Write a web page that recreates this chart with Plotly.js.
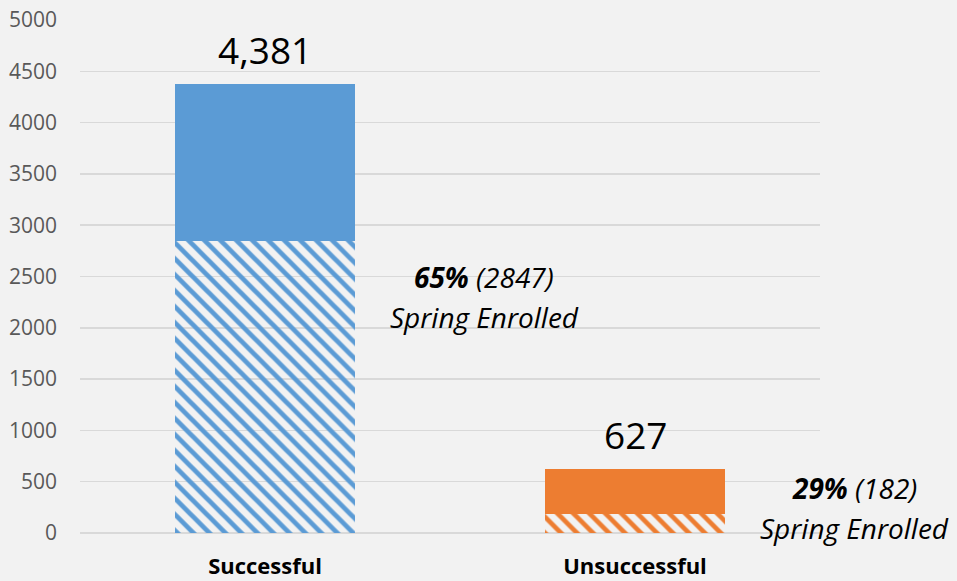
<!DOCTYPE html>
<html>
<head>
<meta charset="utf-8">
<script src="https://cdn.plot.ly/plotly-3.0.1.min.js"></script>
<style>
html,body{margin:0;padding:0;background:#f2f2f2;}
#chart{width:957px;height:581px;}
</style>
</head>
<body>
<div id="chart"></div>
<script>
const categories = ["Successful", "Unsuccessful"];
const totals = [4381, 627];
const springEnrolled = [2847, 182];
const springPct = ["65%", "29%"];
const barColors = ["#5B9BD5", "#ED7D31"];
const yTicks = [0, 500, 1000, 1500, 2000, 2500, 3000, 3500, 4000, 4500, 5000];

const remainder = totals.map((t, i) => t - springEnrolled[i]);

const hatched = {
  type: "bar",
  x: categories,
  y: springEnrolled,
  width: 0.485,
  marker: {
    color: barColors,
    line: {width: 0},
    pattern: {shape: "\\", fgcolor: "#ffffff", bgcolor: barColors, fgopacity: 1,
              size: 11.3, solidity: 0.42, fillmode: "replace"}
  },
  hoverinfo: "skip",
  showlegend: false
};
const solid = {
  type: "bar",
  x: categories,
  y: remainder,
  width: 0.485,
  marker: {color: barColors, line: {width: 0}},
  hoverinfo: "skip",
  showlegend: false
};

const font = "Open Sans, Lato, sans-serif";
const annotations = [];
categories.forEach((c, i) => {
  annotations.push({
    x: c, y: totals[i], xref: "x", yref: "y",
    text: totals[i].toLocaleString("en-US"),
    showarrow: false, yanchor: "bottom", yshift: 7,
    font: {family: font, size: 37, color: "#000000"}
  });
});
const sidePos = [[0.546, 0.499, 0.422], [1.047, 0.087, 0.010]];
categories.forEach((c, i) => {
  annotations.push({
    x: sidePos[i][0], y: sidePos[i][1], xref: "paper", yref: "paper",
    text: "<b><i>" + springPct[i] + "</i></b> <i>(" + springEnrolled[i] + ")</i>",
    showarrow: false, xanchor: "center", yanchor: "middle",
    font: {family: font, size: 28, color: "#000000"}
  });
  annotations.push({
    x: sidePos[i][0], y: sidePos[i][2], xref: "paper", yref: "paper",
    text: "<i>Spring Enrolled</i>",
    showarrow: false, xanchor: "center", yanchor: "middle",
    font: {family: font, size: 28, color: "#000000"}
  });
});

const layout = {
  width: 957, height: 581,
  margin: {l: 80, r: 137, t: 20, b: 48, pad: 0},
  paper_bgcolor: "#f2f2f2",
  plot_bgcolor: "#f2f2f2",
  barmode: "stack",
  showlegend: false,
  xaxis: {
    type: "category",
    range: [-0.5, 1.5],
    showgrid: false, zeroline: false, showline: false,
    ticks: "",
    ticklabelstandoff: 18,
    tickfont: {family: font, size: 22, color: "#000000", weight: "bold"},
    fixedrange: true
  },
  yaxis: {
    range: [0, 5000],
    tickvals: yTicks,
    ticktext: yTicks.map(String),
    showgrid: true, gridcolor: "#d9d9d9", gridwidth: 1.5,
    zeroline: true, zerolinecolor: "#d9d9d9", zerolinewidth: 1.5,
    showline: false, ticks: "",
    ticklabelstandoff: 22,
    tickfont: {family: font, size: 21, color: "#595959"},
    fixedrange: true
  },
  annotations: annotations
};

Plotly.newPlot("chart", [hatched, solid], layout, {displayModeBar: false, staticPlot: true});
</script>
</body>
</html>
